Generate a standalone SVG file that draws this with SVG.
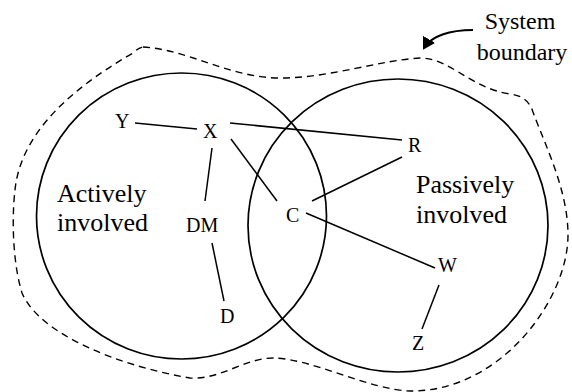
<svg xmlns="http://www.w3.org/2000/svg" width="572" height="392" viewBox="0 0 572 392">
<style>
.set{fill:none;stroke:#000;stroke-width:1.7}
.bnd{fill:none;stroke:#000;stroke-width:1.4;stroke-dasharray:7 5}
.lnk{fill:none;stroke:#000;stroke-width:1.5}
</style>
<defs>
<marker id="ah" viewBox="0 0 12 14" refX="10" refY="7" markerWidth="12" markerHeight="14" orient="auto" markerUnits="userSpaceOnUse">
<path d="M0,0 L12,7 L0,14 z" fill="#000"/>
</marker>
</defs>
<g id="boundary">
<path class="bnd" d="M143,47 C190,50 230,78 280,78 C330,78 380,60 420,58 C450,58 470,88 510,94 Q528,96 533,112 C545,145 568,190 568,235 C568,300 500,392 410,391 C370,390 310,358 273,358 C245,358 220,380 190,378 C120,366 40,335 22,293 C12,260 12,215 15,190 C20,140 60,95 133,53 Q138,48 143,47 Z"/>
</g>
<g id="active">
<ellipse class="set" cx="181.5" cy="216" rx="145" ry="143"/>
<text font-family="Liberation Serif, serif" font-size="26" x="57" y="202">Actively</text>
<text font-family="Liberation Serif, serif" font-size="26" x="57" y="231">involved</text>
</g>
<g id="passive">
<ellipse class="set" cx="398" cy="225.5" rx="150" ry="146.5"/>
<text font-family="Liberation Serif, serif" font-size="26" x="416" y="193">Passively</text>
<text font-family="Liberation Serif, serif" font-size="26" x="416" y="223">involved</text>
</g>
<g id="label-system">
<text font-family="Liberation Serif, serif" font-size="24" text-anchor="middle" x="520" y="29">System</text>
<text font-family="Liberation Serif, serif" font-size="24" text-anchor="middle" x="522" y="60">boundary</text>
</g>
<g id="connectors">
<line class="lnk" x1="135" y1="123" x2="197" y2="129"/>
<line class="lnk" x1="230" y1="123" x2="402" y2="140"/>
<line class="lnk" x1="231" y1="139" x2="277" y2="201"/>
<line class="lnk" x1="212" y1="148" x2="205" y2="201"/>
<line class="lnk" x1="312" y1="201" x2="402" y2="157"/>
<line class="lnk" x1="306" y1="213" x2="435" y2="268"/>
<line class="lnk" x1="212" y1="243" x2="224" y2="301"/>
<line class="lnk" x1="439" y1="285" x2="422" y2="329"/>
<path d="M473,30 C450,30 431,36 424,48" fill="none" stroke="#000" stroke-width="2.2" marker-end="url(#ah)"/>
</g>
<g id="Y"><text font-family="Liberation Serif, serif" font-size="20" x="115" y="128">Y</text></g>
<g id="X"><text font-family="Liberation Serif, serif" font-size="20" x="203" y="138">X</text></g>
<g id="R"><text font-family="Liberation Serif, serif" font-size="20" x="408" y="152">R</text></g>
<g id="C"><text font-family="Liberation Serif, serif" font-size="20" x="286" y="222">C</text></g>
<g id="DM"><text font-family="Liberation Serif, serif" font-size="20" x="186" y="232">DM</text></g>
<g id="D"><text font-family="Liberation Serif, serif" font-size="20" x="220" y="323">D</text></g>
<g id="W"><text font-family="Liberation Serif, serif" font-size="20" x="438" y="272">W</text></g>
<g id="Z"><text font-family="Liberation Serif, serif" font-size="20" x="412" y="350">Z</text></g>
</svg>
